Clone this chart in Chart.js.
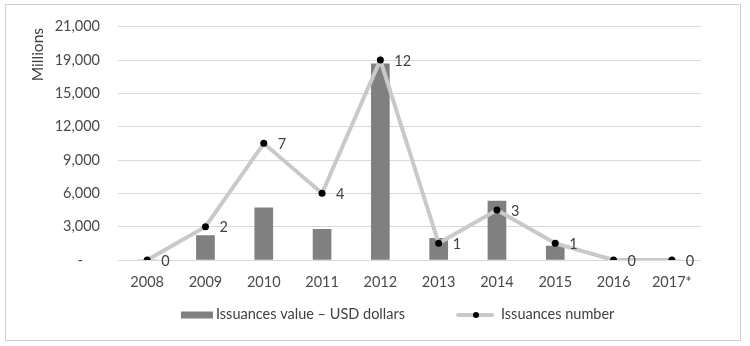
<!DOCTYPE html>
<html><head><meta charset="utf-8">
<script src="https://cdn.jsdelivr.net/npm/chart.js@4/dist/chart.umd.min.js"></script>
<style>html,body{margin:0;padding:0;background:#fff;}#wrap{position:relative;width:750px;height:346px;}</style>
</head><body><div id="wrap"><canvas id="c" width="750" height="346"></canvas></div>
<script>
const years = ['2008','2009','2010','2011','2012','2013','2014','2015','2016','2017*'];
const issuanceValue = [0, 2200, 4700, 2750, 17650, 1950, 5300, 1250, 0, 0];
const issuanceNumber = [0, 2, 7, 4, 12, 1, 3, 1, 0, 0];
const yTickLabels = ['-', '3,000', '6,000', '9,000', '12,000', '15,000', '19,000', '21,000'];
const yTitle = 'Millions';
const barLabel = 'Issuances value \u2013 USD dollars';
const lineLabel = 'Issuances number';

const FONT = 'Lato, "Open Sans", sans-serif';
const BAR_COLOR = '#808080';
const LINE_COLOR = '#c9c9c9';
const TEXT_COLOR = '#404040';

const decor = {
  id: 'decor',
  beforeDraw(chart) {
    const ctx = chart.ctx;
    ctx.save();
    ctx.strokeStyle = '#d0d0d0';
    ctx.lineWidth = 1;
    ctx.strokeRect(5.5, 4.5, 735, 336);
    ctx.restore();
  },
  afterDatasetsDraw(chart) {
    const ctx = chart.ctx;
    const meta = chart.getDatasetMeta(1);
    ctx.save();
    ctx.font = '14.5px ' + FONT;
    ctx.fillStyle = TEXT_COLOR;
    ctx.textAlign = 'left';
    ctx.textBaseline = 'middle';
    meta.data.forEach((pt, i) => {
      ctx.fillText(String(issuanceNumber[i]), pt.x + 14, pt.y + 1);
    });
    ctx.restore();
  },
  afterDraw(chart) {
    const ctx = chart.ctx;
    ctx.save();
    ctx.font = '15.5px ' + FONT;
    ctx.fillStyle = TEXT_COLOR;
    ctx.translate(38, 28);
    ctx.rotate(-Math.PI / 2);
    ctx.textAlign = 'right';
    ctx.textBaseline = 'middle';
    ctx.fillText(yTitle, 0, 0);
    ctx.restore();
    ctx.save();
    const ly = 315;
    ctx.fillStyle = BAR_COLOR;
    ctx.fillRect(181, ly - 3.5, 32, 7);
    ctx.font = '14.5px ' + FONT;
    ctx.fillStyle = TEXT_COLOR;
    ctx.textAlign = 'left';
    ctx.textBaseline = 'middle';
    ctx.fillText(barLabel, 216, ly - 1);
    ctx.strokeStyle = LINE_COLOR;
    ctx.lineWidth = 4;
    ctx.lineCap = 'round';
    ctx.beginPath();
    ctx.moveTo(458, ly);
    ctx.lineTo(492, ly);
    ctx.stroke();
    ctx.fillStyle = '#000';
    ctx.beginPath();
    ctx.arc(476, ly, 3, 0, Math.PI * 2);
    ctx.fill();
    ctx.fillStyle = TEXT_COLOR;
    ctx.fillText(lineLabel, 501, ly - 1);
    ctx.restore();
  }
};

new Chart(document.getElementById('c'), {
  data: {
    labels: years,
    datasets: [
      {
        type: 'bar',
        label: barLabel,
        data: issuanceValue,
        backgroundColor: BAR_COLOR,
        barThickness: 18,
        yAxisID: 'y',
        order: 2
      },
      {
        type: 'line',
        label: lineLabel,
        data: issuanceNumber,
        borderColor: LINE_COLOR,
        borderWidth: 4,
        tension: 0,
        pointRadius: 3.5,
        pointBackgroundColor: '#000',
        pointBorderWidth: 0,
        yAxisID: 'y1',
        order: 1
      }
    ]
  },
  options: {
    responsive: false,
    animation: false,
    devicePixelRatio: 1,
    layout: { padding: { top: 23, right: 49, bottom: 0, left: 0 } },
    plugins: { legend: { display: false }, tooltip: { enabled: false } },
    scales: {
      x: {
        grid: { display: false },
        border: { display: false },
        ticks: { color: '#4a4a4a', font: { family: FONT, size: 14.5 }, padding: 6, maxRotation: 0 },
        afterFit(s) { s.height = 86; }
      },
      y: {
        min: 0, max: 21000,
        ticks: {
          stepSize: 3000,
          color: '#4a4a4a',
          font: { family: FONT, size: 14.5 },
          padding: 18,
          callback: (v, i) => {
            const l = yTickLabels[i];
            return l === '-' ? l + '\u2007\u2007' : l;
          }
        },
        grid: { color: '#d9d9d9', drawTicks: false, lineWidth: 1 },
        border: { display: false },
        afterFit(s) { s.width = 118; }
      },
      y1: {
        display: false,
        min: 0, max: 14
      }
    }
  },
  plugins: [decor]
});
</script>
</body></html>
